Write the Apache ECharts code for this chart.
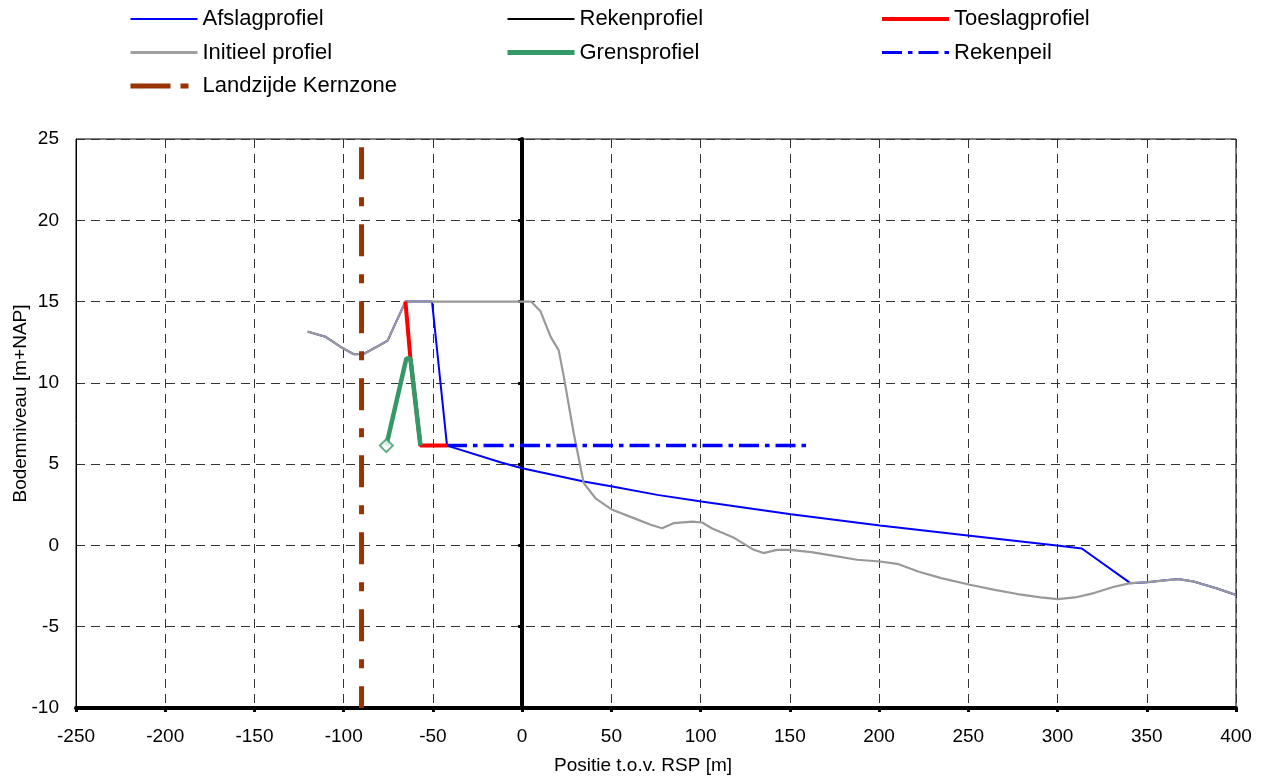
<!DOCTYPE html>
<html>
<head>
<meta charset="utf-8">
<title>Afslagprofiel</title>
<script src="https://cdn.jsdelivr.net/npm/echarts@6/dist/echarts.min.js"></script>
<style>
  html, body { margin: 0; padding: 0; background: #fff; }
  #chart { width: 1268px; height: 780px; }
</style>
</head>
<body>
<div id="chart"></div>
<script>
// profielen, [positie t.o.v. RSP (m), bodemniveau (m+NAP)]
var initieelProfiel = [
  [-120.2, 13.15], [-110.3, 12.84], [-101.8, 12.22], [-94.4, 11.76], [-88.8, 11.78],
  [-79.5, 12.33], [-75.4, 12.6], [-65.4, 15.0], [5.0, 15.0], [10.3, 14.4],
  [15.9, 12.84], [20.5, 12.0], [23.3, 10.4], [28.9, 6.9], [34.5, 3.83],
  [41.1, 2.9], [50.5, 2.19], [62.6, 1.68], [72, 1.27], [78.4, 1.06],
  [84.8, 1.37], [95.5, 1.47], [100.9, 1.41], [106.2, 1.06], [119, 0.45],
  [129.8, -0.27], [135.2, -0.47], [142.7, -0.27], [150.1, -0.27], [162, -0.41],
  [174.8, -0.64], [187.7, -0.88], [200.5, -0.99], [210.2, -1.13], [221.9, -1.6],
  [234.8, -2.01], [250.9, -2.42], [264.8, -2.73], [277.6, -2.99], [290.5, -3.2],
  [300.1, -3.3], [309.8, -3.2], [320.4, -2.93], [331.2, -2.56], [340.8, -2.32],
  [350.5, -2.26], [359, -2.16], [367.5, -2.07], [376.2, -2.22], [389, -2.63],
  [400, -3.05]
]
var afslagProfiel = [
  [-120.2, 13.15], [-110.3, 12.84], [-101.8, 12.22], [-94.4, 11.76], [-88.8, 11.78],
  [-79.5, 12.33], [-75.4, 12.6], [-65.4, 15.0], [-50.5, 15.0], [-42.1, 6.14],
  [-12.2, 5.12], [0, 4.75], [34.5, 3.93], [50.5, 3.62], [75.7, 3.11],
  [100.4, 2.7], [150.6, 1.92], [200.5, 1.22], [250.9, 0.59], [300.8, -0.02],
  [313.6, -0.19], [340.8, -2.32], [350.5, -2.26], [359, -2.16], [367.5, -2.07],
  [376.2, -2.22], [389, -2.63], [400, -3.05]
]
var rekenProfiel = []
var toeslagProfiel = [[-65.4, 15.0], [-62.6, 11.5], [-57, 6.14], [-42.1, 6.14]]
var grensProfiel = [[-76.1, 6.14], [-64.9, 11.5], [-62.6, 11.5], [-57, 6.14]]
var grensStart = [[-76.1, 6.14]]
var rekenPeil = [[-42.1, 6.14], [160, 6.14]]
var kernzone = [[-90, 24.5], [-90, -10]]

var xMin = -250, xMax = 400, xStep = 50
var yMin = -10, yMax = 25, yStep = 5

var font = 'Liberation Sans, Arial, sans-serif'
var stijl = {
  'Afslagprofiel': { color: '#0000ff', width: 2 },
  'Rekenprofiel': { color: '#000000', width: 2 },
  'Toeslagprofiel': { color: '#ff0000', width: 4 },
  'Initieel profiel': { color: '#a0a0a0', width: 3 },
  'Grensprofiel': { color: '#339966', width: 5 },
  'Rekenpeil': { color: '#0000ff', width: 3, type: [20, 6, 4.5, 6] },
  'Landzijde Kernzone': { color: '#993300', width: 5, type: [40, 10, 8, 20] }
}

var chart = echarts.init(document.getElementById('chart'))

function legendCol(left, names) {
  return {
    orient: 'vertical',
    left: left,
    top: 8,
    padding: 0,
    itemWidth: 67,
    itemHeight: 14,
    itemGap: 11.5,
    selectedMode: false,
    itemStyle: { opacity: 0 },
    data: names.map(function (n) {
      return { name: n, lineStyle: stijl[n], itemStyle: { opacity: 0 } }
    }),
    textStyle: { fontFamily: font, fontSize: 22, lineHeight: 22, color: '#000' }
  }
}

chart.setOption({
  animation: false,
  legend: [
    legendCol(128, ['Afslagprofiel', 'Initieel profiel', 'Landzijde Kernzone']),
    legendCol(505, ['Rekenprofiel', 'Grensprofiel']),
    legendCol(880, ['Toeslagprofiel', 'Rekenpeil'])
  ],
  grid: {
    left: 76, right: 32, top: 139, bottom: 72,
    outerBoundsMode: 'none',
    show: true, borderColor: '#000', borderWidth: 1
  },
  xAxis: {
    type: 'value',
    min: xMin, max: xMax, interval: xStep,
    name: 'Positie t.o.v. RSP [m]',
    nameLocation: 'middle',
    nameGap: 48,
    nameMoveOverlap: false,
    nameTextStyle: { fontFamily: font, fontSize: 19, color: '#000', padding: [0, 26, 0, 0] },
    axisLine: { onZero: false, lineStyle: { color: '#000', width: 4 } },
    axisTick: { length: 4, lineStyle: { color: '#000', width: 3 } },
    axisLabel: { fontFamily: font, fontSize: 19, color: '#000', margin: 19 },
    splitLine: { lineStyle: { color: '#333', type: [9, 6], width: 1 } }
  },
  yAxis: [
    {
      type: 'value',
      min: yMin, max: yMax, interval: yStep,
      name: 'Bodemniveau [m+NAP]',
      nameLocation: 'middle',
      nameGap: 46,
      nameMoveOverlap: false,
      nameTextStyle: { fontFamily: font, fontSize: 19, color: '#000', padding: [0, 0, 0, 40] },
      axisLine: { show: true, onZero: false, lineStyle: { color: '#000', width: 1 } },
      axisTick: { show: false },
      axisLabel: { fontFamily: font, fontSize: 19, color: '#000', margin: 17 },
      splitLine: { lineStyle: { color: '#333', type: [9, 6], width: 1 } }
    },
    {
      // verticale as door RSP (x = 0)
      type: 'value',
      min: yMin, max: yMax, interval: yStep,
      position: 'left',
      axisLine: { show: true, onZero: true, lineStyle: { color: '#000', width: 4 } },
      axisTick: { show: true, length: 4, lineStyle: { color: '#000', width: 3 } },
      axisLabel: { show: false },
      splitLine: { show: false }
    }
  ],
  series: [
    {
      name: 'Rekenprofiel', type: 'line', data: rekenProfiel, symbol: 'none',
      lineStyle: { color: '#000', width: 2 }, itemStyle: { color: '#000' }
    },
    {
      name: 'Afslagprofiel', type: 'line', data: afslagProfiel, symbol: 'none', z: 2,
      lineStyle: { color: '#0000ff', width: 2 }, itemStyle: { color: '#0000ff' }
    },
    {
      name: 'Initieel profiel', type: 'line', data: initieelProfiel, symbol: 'none', z: 3,
      lineStyle: { color: '#999999', width: 2.2 }, itemStyle: { color: '#999999' }
    },
    {
      name: 'Rekenpeil', type: 'line', data: rekenPeil, symbol: 'none', z: 3,
      lineStyle: { color: '#0000ff', width: 3.5, type: [20, 6, 4.5, 6] }, itemStyle: { color: '#0000ff' }
    },
    {
      name: 'Toeslagprofiel', type: 'line', data: toeslagProfiel, symbol: 'none', z: 4,
      lineStyle: { color: '#ff0000', width: 4 }, itemStyle: { color: '#ff0000' }
    },
    {
      name: 'Grensprofiel', type: 'line', data: grensProfiel, symbol: 'none', z: 5,
      lineStyle: { color: '#339966', width: 4.5 }, itemStyle: { color: '#339966' }
    },
    {
      name: 'grens start', type: 'scatter', data: grensStart, symbol: 'diamond', symbolSize: 13, z: 6,
      itemStyle: { color: '#fff', borderColor: '#339966', borderWidth: 2 }
    },
    {
      name: 'Landzijde Kernzone', type: 'line', data: kernzone, symbol: 'none', z: 6,
      lineStyle: { color: '#993300', width: 5, type: [32, 18, 9, 18] }, itemStyle: { color: '#993300' }
    }
  ]
})
</script>
</body>
</html>
